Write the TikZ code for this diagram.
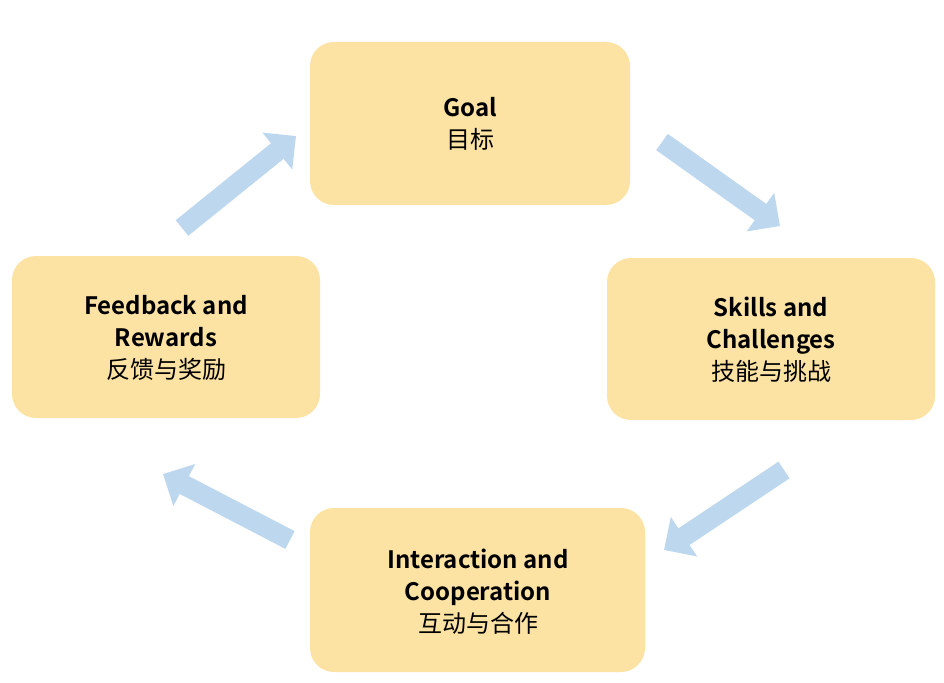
\documentclass[tikz,border=0pt]{standalone}
\usepackage{fontspec}
\setmainfont{Noto Sans CJK SC}[BoldFont={Noto Sans CJK SC Bold}]
\usetikzlibrary{arrows.meta}
\definecolor{boxc}{HTML}{FCE3A4}
\definecolor{arrc}{HTML}{BDD7EE}
\tikzset{
 box/.style={fill=boxc,rounded corners=24pt,align=center,font=\fontsize{24}{30}\selectfont},
 bigarrow/.style={draw=arrc,line width=20pt,-{Triangle[length=24pt,width=46pt]}}
}
\begin{document}
\begin{tikzpicture}[x=1pt,y=-1pt]
\useasboundingbox (0,0) rectangle (944,682);
\path[box] (310,42) rectangle (630,205);
\node[align=center,font=\fontsize{24}{32}\selectfont] (g) at (470,124) {\textbf{Goal}\\目标};
\path[box] (607,258) rectangle (935,420);
\node[align=center,font=\fontsize{24}{32}\selectfont] (s) at (771,340) {\textbf{Skills and}\\\textbf{Challenges}\\技能与挑战};
\path[box] (310,508) rectangle (645,672);
\node[align=center,font=\fontsize{24}{32}\selectfont] (i) at (478,592) {\textbf{Interaction and}\\\textbf{Cooperation}\\互动与合作};
\path[box] (12,256) rectangle (320,418);
\node[align=center,font=\fontsize{24}{32}\selectfont] (f) at (166,338) {\textbf{Feedback and}\\\textbf{Rewards}\\反馈与奖励};
\coordinate (a1s) at (182,228); \coordinate (a1e) at (296,136);
\coordinate (a2s) at (662,142); \coordinate (a2e) at (780,226);
\coordinate (a3s) at (784,470); \coordinate (a3e) at (664,550);
\coordinate (a4s) at (290,540); \coordinate (a4e) at (163,474);
\draw[bigarrow] (a1s) -- (a1e);
\draw[bigarrow] (a2s) -- (a2e);
\draw[bigarrow] (a3s) -- (a3e);
\draw[bigarrow] (a4s) -- (a4e);
\end{tikzpicture}
\end{document}
